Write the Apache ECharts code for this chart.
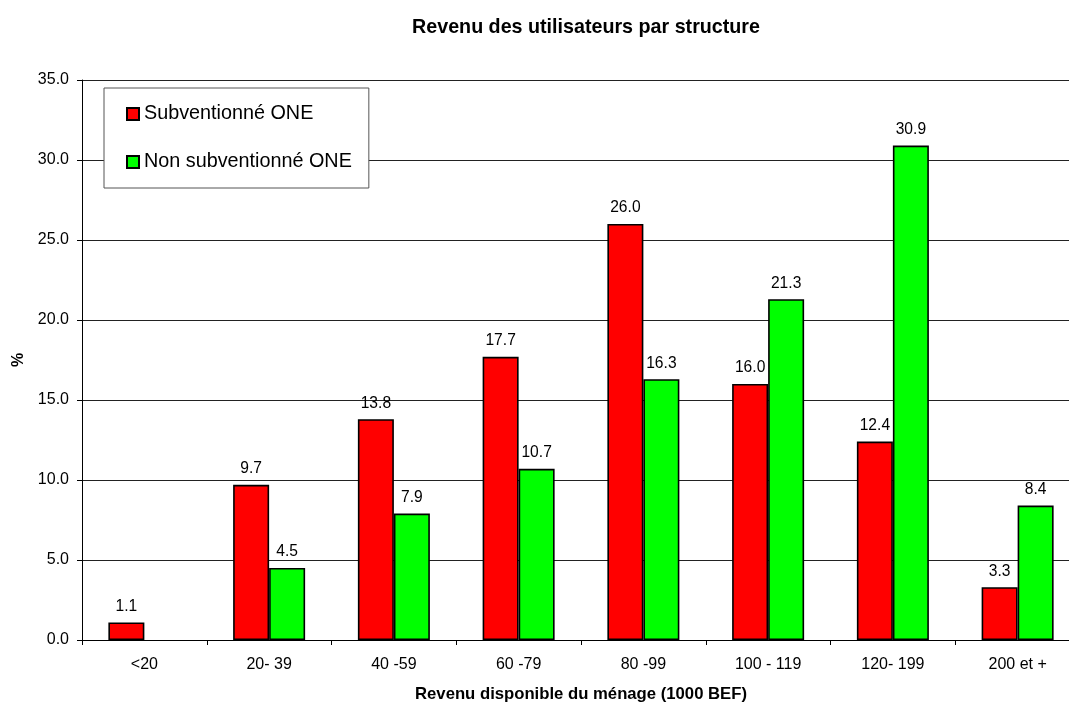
<!DOCTYPE html>
<html>
<head>
<meta charset="utf-8">
<script src="https://cdn.jsdelivr.net/npm/echarts@6/dist/echarts.min.js"></script>
<style>
  html, body { margin: 0; padding: 0; background: #fff; }
  #chart { width: 1069px; height: 704px; }
</style>
</head>
<body>
<div id="chart"></div>
<script>
// Income brackets (thousand BEF) and share of users (%) per childcare structure type
const categories = ['<20', '20- 39', '40 -59', '60 -79', '80 -99', '100 - 119', '120- 199', '200 et +'];
const subsidised = [1.1, 9.7, 13.8, 17.7, 26.0, 16.0, 12.4, 3.3];
const nonSubsidised = [null, 4.5, 7.9, 10.7, 16.3, 21.3, 30.9, 8.4];
const yTicks = { min: 0, max: 35, interval: 5 };

const FONT = "'Liberation Sans', Arial, sans-serif";

// Plot area: the right part runs past the page edge
const PLOT = { left: 82, top: 80, width: 998, height: 560 };

const chart = echarts.init(document.getElementById('chart'), null, { renderer: 'canvas' });

const valueLabel = {
  show: true,
  position: 'top',
  distance: 8,
  color: '#000',
  fontFamily: FONT,
  fontSize: 15.6,
  formatter: p => (p.value == null ? '' : Number(p.value).toFixed(1))
};

chart.setOption({
  animation: false,
  backgroundColor: '#fff',
  title: {
    text: 'Revenu des utilisateurs par structure',
    left: PLOT.left + PLOT.width / 2,
    textAlign: 'center',
    top: 13,
    textStyle: { fontFamily: FONT, fontSize: 19.7, fontWeight: 'bold', color: '#000' }
  },
  legend: {
    orient: 'vertical',
    left: 104,
    top: 88,
    padding: [16, 17, 16, 22],
    itemGap: 28,
    itemWidth: 12,
    itemHeight: 12,
    borderColor: '#555',
    borderWidth: 1,
    backgroundColor: '#fff',
    icon: 'rect',
    textStyle: { fontFamily: FONT, fontSize: 19.8, color: '#000', lineHeight: 20 }
  },
  grid: {
    left: PLOT.left, top: PLOT.top, width: PLOT.width, height: PLOT.height,
    outerBoundsMode: 'none',
    containLabel: false
  },
  xAxis: {
    type: 'category',
    data: categories,
    name: 'Revenu disponible du ménage (1000 BEF)',
    nameLocation: 'middle',
    nameGap: 46,
    nameTextStyle: { fontFamily: FONT, fontSize: 16.7, fontWeight: 'bold', color: '#000' },
    axisLine: { lineStyle: { color: '#000', width: 1 } },
    axisTick: { show: true, length: 5, lineStyle: { color: '#000' } },
    axisLabel: { fontFamily: FONT, fontSize: 16, color: '#000', margin: 17 }
  },
  yAxis: {
    type: 'value',
    min: yTicks.min,
    max: yTicks.max,
    interval: yTicks.interval,
    name: '%',
    nameLocation: 'middle',
    nameGap: 52,
    nameRotate: 90,
    nameTextStyle: { fontFamily: FONT, fontSize: 16, fontWeight: 'bold', color: '#000' },
    axisLine: { show: true, lineStyle: { color: '#000', width: 1 } },
    axisTick: { show: true, length: 5, lineStyle: { color: '#000' } },
    axisLabel: {
      fontFamily: FONT, fontSize: 16, color: '#000', margin: 13,
      formatter: v => v.toFixed(1)
    },
    splitLine: { show: true, lineStyle: { color: '#222', width: 1 } }
  },
  series: [
    {
      name: 'Subventionné ONE',
      type: 'bar',
      data: subsidised,
      barWidth: 36,
      barGap: '0%',
      itemStyle: { color: '#ff0000', borderColor: '#000', borderWidth: 1.6 },
      label: valueLabel
    },
    {
      name: 'Non subventionné ONE',
      type: 'bar',
      data: nonSubsidised,
      barWidth: 36,
      barGap: '0%',
      itemStyle: { color: '#00ff00', borderColor: '#000', borderWidth: 1.6 },
      label: valueLabel
    }
  ]
});
</script>
</body>
</html>
